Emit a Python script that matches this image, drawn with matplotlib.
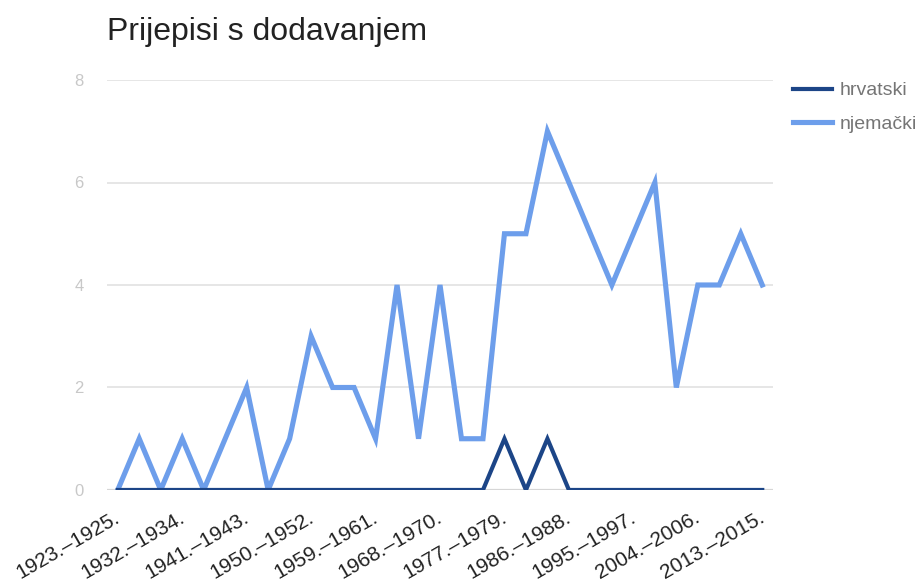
import matplotlib.pyplot as plt
import matplotlib.transforms as mtransforms

# razdoblja po 3 godine, 1923.-1925. do 2013.-2015.
razdoblja = ["%d.–%d." % (g, g + 2) for g in range(1923, 2014, 3)]

hrvatski = [0, 0, 0, 0, 0, 0, 0, 0, 0, 0, 0, 0, 0, 0, 0, 0,
            0, 0, 1, 0, 1, 0, 0, 0, 0, 0, 0, 0, 0, 0, 0]
njemacki = [0, 1, 0, 1, 0, 1, 2, 0, 1, 3, 2, 2, 1, 4, 1, 4,
            1, 1, 5, 5, 7, 6, 5, 4, 5, 6, 2, 4, 4, 5, 4]

y_ticks = [0, 2, 4, 6, 8]

plt.rcParams['font.family'] = ['Liberation Sans', 'DejaVu Sans']

fig = plt.figure(figsize=(9.21, 5.84), dpi=100)
ax = fig.add_axes([0.1162, 0.161, 0.7231, 0.702])

x = list(range(len(razdoblja)))
ax.plot(x, njemacki, color='#6d9eeb', lw=3.7, label='njemački', zorder=3,
        solid_joinstyle='miter')
ax.plot(x, hrvatski, color='#1c4587', lw=3.0, label='hrvatski', zorder=4,
        solid_joinstyle='miter')

ax.set_xlim(-0.5, len(razdoblja) - 0.5)
ax.set_ylim(0, 8)
ax.set_yticks(y_ticks)
ax.set_yticklabels([str(v) for v in y_ticks], color='#c8c8c8', fontsize=12)
ax.grid(axis='y', color='#e2e2e2', lw=1.2, zorder=0)
ax.axhline(0, color='#a0a0a0', lw=1.5, zorder=1)

ax.set_xticks(x[::3])
ax.set_xticklabels(razdoblja[::3], rotation=30, ha='right',
                   rotation_mode='anchor', fontsize=15, color='#222222')
ax.tick_params(axis='both', length=0)
ax.tick_params(axis='y', pad=17)
ax.tick_params(axis='x', pad=13)

# malo ulijevo, kao u originalu
pomak = mtransforms.ScaledTranslation(-4 / 100, 0, fig.dpi_scale_trans)
for lbl in ax.get_xticklabels():
    lbl.set_transform(lbl.get_transform() + pomak)

for s in ax.spines.values():
    s.set_visible(False)

fig.text(0.1162, 0.945, "Prijepisi s dodavanjem", fontsize=23,
         color='#222222', va='center', ha='left')

h, l = ax.get_legend_handles_labels()
leg = fig.legend(h[::-1], l[::-1], loc='upper left',
                 bbox_to_anchor=(0.861, 0.860), frameon=False,
                 fontsize=14, handlelength=2.0, handletextpad=0.4,
                 borderpad=0, borderaxespad=0, labelspacing=0.82)
for t in leg.get_texts():
    t.set_color('#757575')

fig.savefig('out.png', dpi=100)
